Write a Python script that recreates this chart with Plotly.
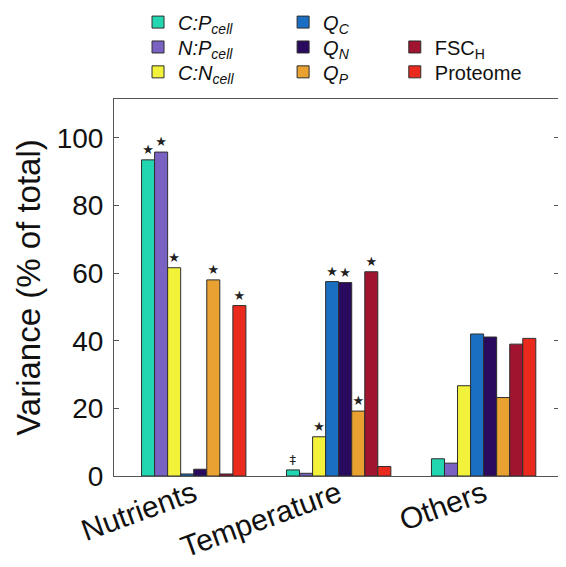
import plotly.graph_objects as go

categories = ["Nutrients", "Temperature", "Others"]
series_names = [
    "<i>C:P</i><sub><i>cell</i></sub>",
    "<i>N:P</i><sub><i>cell</i></sub>",
    "<i>C:N</i><sub><i>cell</i></sub>",
    "<i>Q</i><sub><i>C</i></sub>",
    "<i>Q</i><sub><i>N</i></sub>",
    "<i>Q</i><sub><i>P</i></sub>",
    "FSC<sub>H</sub>",
    "Proteome",
]
cp_cell = [93.5, 1.8, 5.1]
np_cell = [95.8, 0.8, 3.8]
cn_cell = [61.6, 11.6, 26.7]
q_c = [0.6, 57.5, 42.0]
q_n = [2.0, 57.2, 41.1]
q_p = [58.0, 19.2, 23.2]
fsc_h = [0.6, 60.4, 39.0]
proteome = [50.4, 2.8, 40.7]

cp_marks = ["★", "‡", ""]
np_marks = ["★", "", ""]
cn_marks = ["★", "★", ""]
qc_marks = ["", "★", ""]
qn_marks = ["", "★", ""]
qp_marks = ["★", "★", ""]
fsc_marks = ["", "★", ""]
prot_marks = ["★", "", ""]

values = [cp_cell, np_cell, cn_cell, q_c, q_n, q_p, fsc_h, proteome]
marks = [cp_marks, np_marks, cn_marks, qc_marks, qn_marks, qp_marks, fsc_marks, prot_marks]
colors = ["#22d6b2", "#7a62c2", "#f2f23a", "#1a6fc2", "#2a0a5e", "#e9a232", "#a01430", "#ea2a1c"]

# legend slots (column x in paper units, row y in paper units)
col_x = [0.054, 0.380, 0.631]
row_y = [1.204, 1.138, 1.072]
slots = [(0, 0), (0, 1), (0, 2), (1, 0), (1, 1), (1, 2), (2, 1), (2, 2)]

FONT = "Liberation Sans, Arial, sans-serif"

fig = go.Figure()
layout_legends = {}
for i, (name, vals, mk, col, slot) in enumerate(zip(series_names, values, marks, colors, slots)):
    lg = "legend" if i == 0 else f"legend{i + 1}"
    fig.add_trace(go.Bar(
        x=categories, y=vals, name=name, showlegend=True,
        marker=dict(color=col, line=dict(color="#2e2e2e", width=1)),
        text=mk, textposition="outside", constraintext="none",
        textfont=dict(size=13, color="#222222", family="DejaVu Sans"),
        cliponaxis=False, legend=lg,
    ))
    layout_legends[lg] = dict(
        x=col_x[slot[0]], y=row_y[slot[1]],
        xanchor="left", yanchor="middle",
        font=dict(size=20, family=FONT, color="#111111"),
        bgcolor="rgba(0,0,0,0)", itemwidth=30,
    )

fig.update_layout(
    width=566, height=567, showlegend=True,
    margin=dict(l=106, r=15, t=91, b=99, autoexpand=False),
    paper_bgcolor="white", plot_bgcolor="white",
    barmode="group", bargap=0.28, bargroupgap=0.0,
    font=dict(family=FONT, color="#111111"),
    xaxis=dict(
        range=[-0.55, 2.52], showline=True, linecolor="#555555", linewidth=1,
        mirror=True, ticks="", tickangle=-20, automargin=False,
        ticklabelstandoff=-12,
        tickfont=dict(size=30, family=FONT, color="#111111"),
    ),
    yaxis=dict(
        range=[0, 111.5], tickvals=[0, 20, 40, 60, 80, 100],
        showline=True, linecolor="#555555", linewidth=1, mirror="ticks",
        ticks="inside", ticklen=5, tickcolor="#555555", showgrid=False, zeroline=False,
        automargin=False, ticklabelstandoff=4,
        tickfont=dict(size=28, family=FONT, color="#111111"),
        title=dict(text="Variance (% of total)", font=dict(size=33, family=FONT, color="#111111"), standoff=6),
    ),
    **layout_legends,
)

fig.write_html("out.html")
